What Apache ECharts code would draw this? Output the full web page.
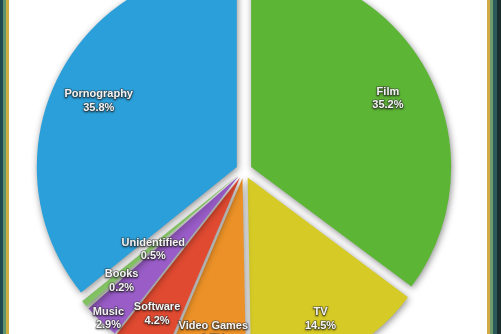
<!DOCTYPE html>
<html>
<head>
<meta charset="utf-8">
<script src="https://cdn.jsdelivr.net/npm/echarts@6/dist/echarts.min.js"></script>
<style>
html,body{margin:0;padding:0;background:#fff;}
#chart{width:501px;height:334px;}
</style>
</head>
<body>
<div id="chart"></div>
<script>
// Data (clockwise from 12 o'clock)
const categories = ['Film', 'TV', 'Video Games', 'Software', 'Music', 'Books', 'Unidentified', 'Pornography'];
const shares = [35.2, 14.5, 6.7, 4.2, 2.9, 0.2, 0.5, 35.8];

// Styles
const colors = ['#5db536', '#d6cb26', '#eb9127', '#df4a30', '#9a5dc8', '#c9d9c0', '#82c263', '#2b9fd9'];
const labelNudge = {
  'TV': [3, 5],
  'Video Games': [0, 4],
  'Software': [-5, 5],
  'Music': [-25, 31],
  'Books': [-1, 5],
  'Unidentified': [33, -24]
};

const chart = echarts.init(document.getElementById('chart'), null, {renderer: 'canvas'});
const CENTER = [244, 170.5];
const OFFSET = 8;

const mainData = categories.map((c, i) => ({
  name: c, value: shares[i], selected: true,
  itemStyle: {color: colors[i]}
}));
const labelData = categories.map((c, i) => ({
  name: c, value: shares[i], selected: true,
  itemStyle: {color: 'rgba(0,0,0,0)'}
}));

chart.setOption({
  animation: false,
  backgroundColor: '#ffffff',
  graphic: [
    {type: 'rect', shape: {x: 0, y: 0, width: 3, height: 334}, style: {fill: '#1f4a4f'}, silent: true},
    {type: 'rect', shape: {x: 3, y: 0, width: 3, height: 334}, style: {fill: '#5f9470'}, silent: true},
    {type: 'rect', shape: {x: 6, y: 0, width: 3, height: 334}, style: {fill: '#cdb03f'}, silent: true},
    {type: 'rect', shape: {x: 487, y: 0, width: 3, height: 334}, style: {fill: '#d2ab45'}, silent: true},
    {type: 'rect', shape: {x: 490, y: 0, width: 3, height: 334}, style: {fill: '#6f9a6e'}, silent: true},
    {type: 'rect', shape: {x: 493, y: 0, width: 4, height: 334}, style: {fill: '#2a5a5a'}, silent: true},
    {type: 'rect', shape: {x: 497, y: 0, width: 4, height: 334}, style: {fill: '#1a2e2e'}, silent: true}
  ],
  series: [
    {
      type: 'pie',
      center: CENTER,
      radius: [0, 200],
      startAngle: 90,
      clockwise: true,
      selectedMode: 'multiple',
      selectedOffset: OFFSET,
      avoidLabelOverlap: false,
      silent: true,
      label: {show: false},
      labelLine: {show: false},
      itemStyle: {
        borderWidth: 0,
        shadowBlur: 7,
        shadowColor: 'rgba(0,0,0,0.45)',
        shadowOffsetX: 1,
        shadowOffsetY: 2
      },
      emphasis: {disabled: true},
      data: mainData,
      z: 2
    },
    {
      type: 'pie',
      center: CENTER,
      radius: [100, 200],
      startAngle: 90,
      clockwise: true,
      selectedMode: 'multiple',
      selectedOffset: OFFSET,
      avoidLabelOverlap: false,
      silent: true,
      itemStyle: {borderWidth: 0},
      labelLine: {show: false},
      emphasis: {disabled: true},
      label: {
        show: true,
        position: 'inside',
        overflow: 'none',
        formatter: p => p.name + '\n' + p.value.toFixed(1) + '%',
        fontFamily: '"Liberation Sans", Arial, Helvetica, sans-serif',
        fontWeight: 'bold',
        fontSize: 11,
        lineHeight: 13.5,
        color: '#f4f4f4',
        textBorderColor: 'rgba(70,70,70,0.55)',
        textBorderWidth: 1.5,
        textShadowColor: 'rgba(0,0,0,0.5)',
        textShadowBlur: 2,
        textShadowOffsetY: 1
      },
      labelLayout: function (params) {
        const n = labelNudge[categories[params.dataIndex]];
        return n ? {dx: n[0], dy: n[1], hideOverlap: false} : {hideOverlap: false};
      },
      data: labelData,
      z: 3
    }
  ]
});
</script>
</body>
</html>
